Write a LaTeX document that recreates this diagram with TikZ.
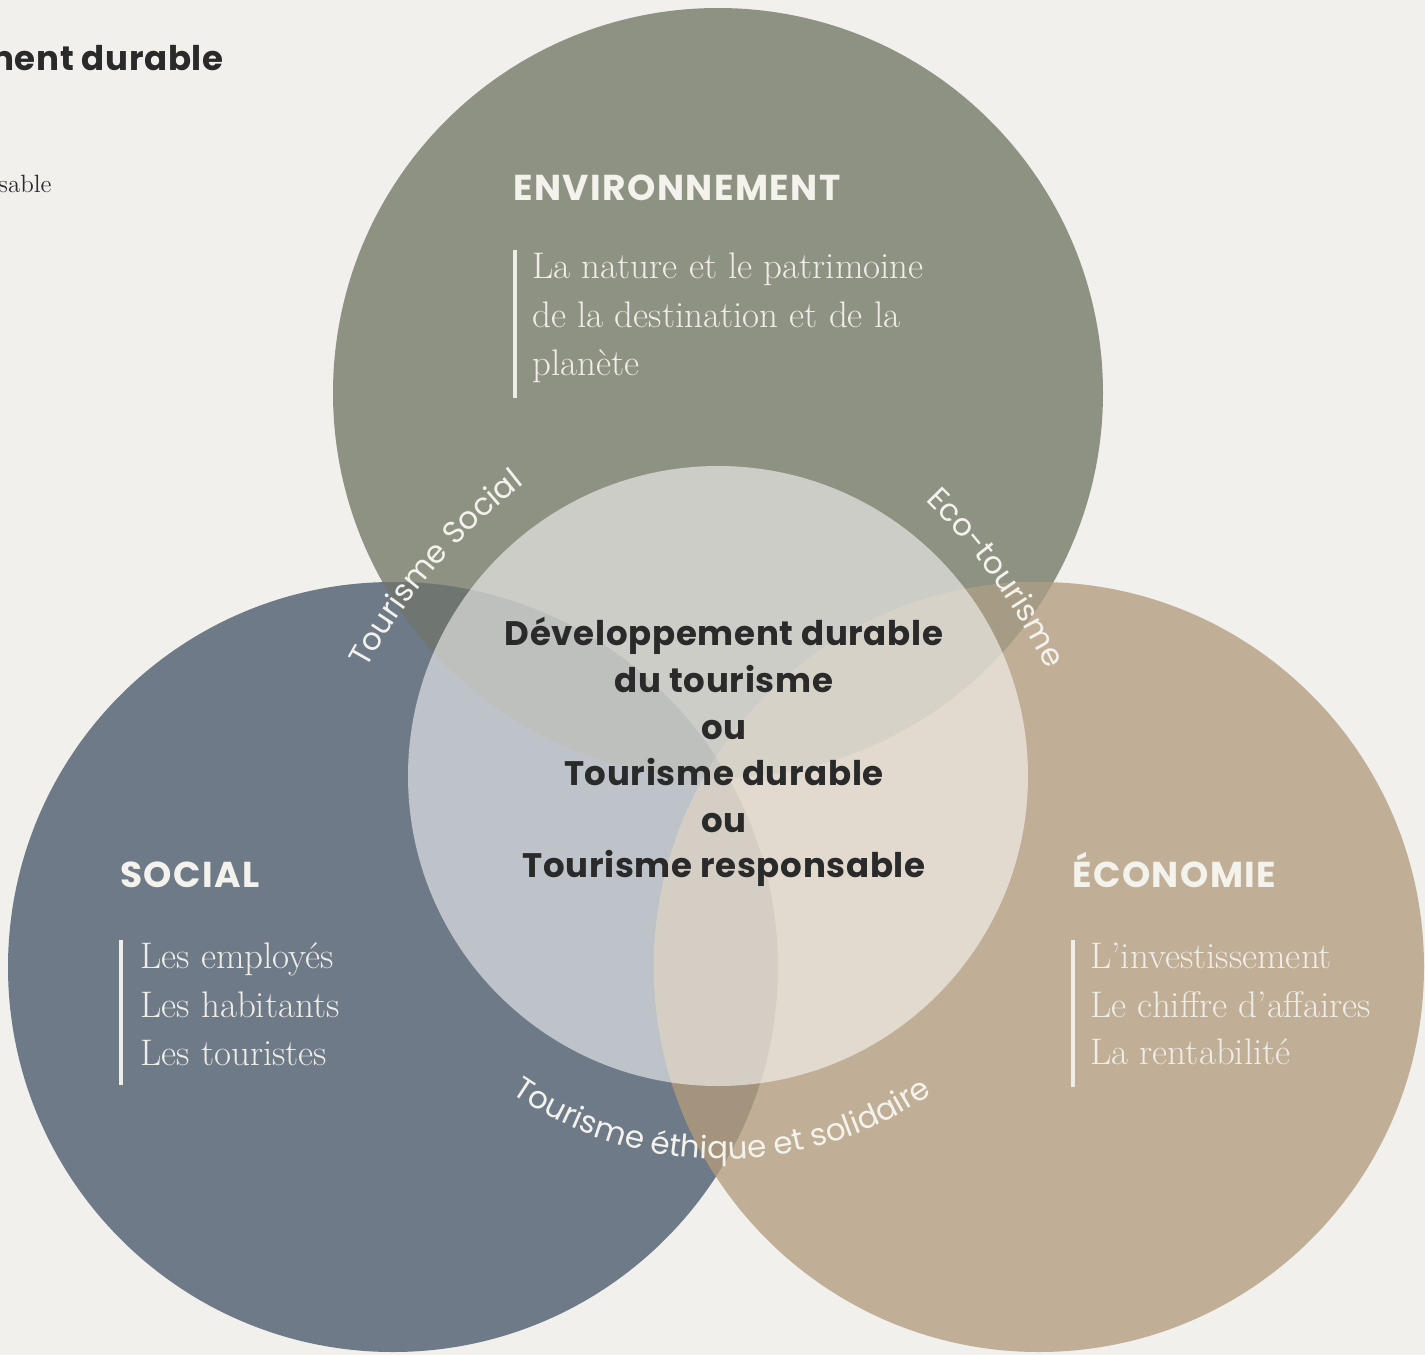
\documentclass[tikz,border=0pt]{standalone}
\usepackage{fontspec}
\newfontfamily\popfont{Poppins}
\usetikzlibrary{decorations.text}
\definecolor{bgc}{HTML}{F1F0EC}
\definecolor{envc}{HTML}{8E9283}
\definecolor{socc}{HTML}{6E7A87}
\definecolor{ecoc}{HTML}{C0AF96}
\definecolor{envsoc}{HTML}{6F7571}
\definecolor{enveco}{HTML}{A69C85}
\definecolor{soceco}{HTML}{A4937D}
\definecolor{allc}{HTML}{8C8879}
\definecolor{lightt}{HTML}{F4F2EC}
\definecolor{bodyt}{HTML}{EFEDE7}
\definecolor{darkt}{HTML}{2A2A2A}
\newcommand{\curvefont}{\popfont\fontsize{15.5}{18}\selectfont}
\tikzset{
  head/.style={font=\popfont\bfseries\fontsize{18}{21}\selectfont\addfontfeature{LetterSpace=4}, text=lightt, inner sep=0pt, anchor=base west},
  bodyline/.style={font=\fontsize{18.5}{22}\selectfont\addfontfeature{FakeBold=0.5}, text=bodyt, inner sep=0pt, anchor=base west},
  ctext/.style={font=\popfont\bfseries\fontsize{17}{20}\selectfont\addfontfeature{LetterSpace=2}, text=darkt, inner sep=0pt, anchor=base},
  bar/.style={draw=bodyt, line width=1.6pt},
  curvelabel/.style={decorate, decoration={text along path, text={|\curvefont|#1}, text align=center, text color=lightt}},
}
\begin{document}
\begin{tikzpicture}[x=0.5pt,y=0.5pt]
\useasboundingbox (0,0) rectangle (1425,-1355);
\begin{scope}
\clip (0,0) rectangle (1425,-1355);
\fill[bgc] (0,0) rectangle (1425,-1355);
\coordinate (E) at (718,-393);
\coordinate (S) at (393,-967);
\coordinate (K) at (1039,-967);
\coordinate (C) at (718,-776);
% circles
\fill[envc] (E) circle[radius=192.5pt];
\fill[socc] (S) circle[radius=192.5pt];
\fill[ecoc] (K) circle[radius=192.5pt];
\begin{scope}
  \clip (E) circle[radius=192.5pt];
  \fill[envsoc] (S) circle[radius=192.5pt];
  \fill[enveco] (K) circle[radius=192.5pt];
\end{scope}
\begin{scope}
  \clip (S) circle[radius=192.5pt];
  \fill[soceco] (K) circle[radius=192.5pt];
\end{scope}
\begin{scope}
  \clip (E) circle[radius=192.5pt];
  \clip (S) circle[radius=192.5pt];
  \fill[allc] (K) circle[radius=192.5pt];
\end{scope}
\fill[white, fill opacity=0.55] (C) circle[radius=155pt];

% cropped texts at top left
\node[font=\popfont\bfseries\fontsize{17}{20}\selectfont\addfontfeature{LetterSpace=2}, text=darkt, inner sep=0pt, anchor=base east] (title) at (224,-70) {Développement durable};
\node[font=\fontsize{12.5}{14}\selectfont\addfontfeature{FakeBold=0.6}, text=darkt, inner sep=0pt, anchor=base east] (subt) at (52,-192) {responsable};

% Environnement
\node[head] (envh) at (513,-200) {ENVIRONNEMENT};
\draw[bar] (515,-250) -- (515,-398);
\node[bodyline] (env1) at (532,-278) {La nature et le patrimoine};
\node[bodyline] (env2) at (532,-327) {de la destination et de la};
\node[bodyline] (env3) at (532,-375) {planète};

% Social
\node[head] (soch) at (120,-887) {SOCIAL};
\draw[bar] (121,-940) -- (121,-1085);
\node[bodyline] (soc1) at (140,-968) {Les employés};
\node[bodyline] (soc2) at (140,-1017) {Les habitants};
\node[bodyline] (soc3) at (140,-1065) {Les touristes};

% Economie
\node[head] (ecoh) at (1072,-887) {ÉCONOMIE};
\draw[bar] (1073,-940) -- (1073,-1087);
\node[bodyline] (eco1) at (1090,-968) {L’investissement};
\node[bodyline] (eco2) at (1090,-1017) {Le chiffre d’affaires};
\node[bodyline] (eco3) at (1090,-1064) {La rentabilité};

% centre
\node[ctext] (c1) at (724,-645) {Développement durable};
\node[ctext] (c2) at (724,-692) {du tourisme};
\node[ctext] (c3) at (724,-739) {ou};
\node[ctext] (c4) at (724,-785) {Tourisme durable};
\node[ctext] (c5) at (724,-832) {ou};
\node[ctext] (c6) at (724,-877) {Tourisme responsable};

% curved labels
\coordinate (SC) at (892,-958);
\coordinate (EC) at (505,-928);
\coordinate (BC) at (722,-788);
\path[curvelabel={Tourisme Social}] ([shift={(158:300pt)}]SC) arc[start angle=158, end angle=121, radius=300pt];
\path[curvelabel={Eco-tourisme}] ([shift={(54:300pt)}]EC) arc[start angle=54, end angle=17, radius=300pt];
\path[curvelabel={Tourisme éthique et solidaire}] ([shift={(219:185.5pt)}]BC) arc[start angle=219, end angle=321, radius=185.5pt];
\end{scope}
\end{tikzpicture}
\end{document}
